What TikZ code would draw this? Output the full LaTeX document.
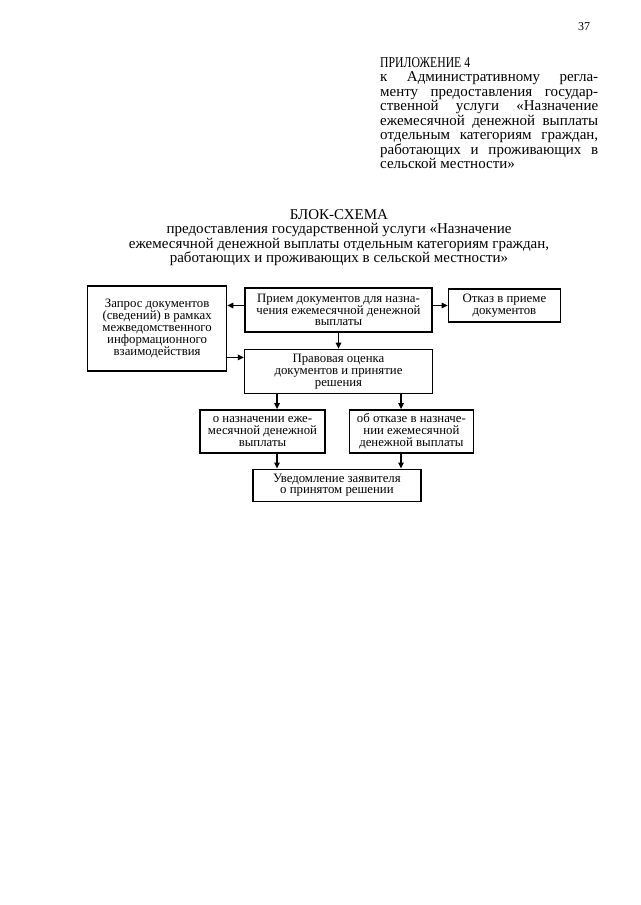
\documentclass[tikz,border=0pt]{standalone}
\usepackage{fontspec}
\setmainfont{Liberation Serif}
\usetikzlibrary{arrows.meta, positioning, calc}

\begin{document}
\begin{tikzpicture}[
    x=1pt, y=-1pt,
    >=Triangle,
    every node/.style={font=\fontsize{15}{14.5}\selectfont},
    block/.style={
        draw, line width=1.4pt, inner sep=0pt, align=center,
        font=\fontsize{12.8}{11.8}\selectfont
    },
    arrow/.style={-{Triangle[length=6pt, width=5.5pt]}, line width=1.3pt},
    title/.style={align=center, inner sep=0pt},
]
\useasboundingbox (0,0) rectangle (640,905);

% ===== Header =====
\node[inner sep=0pt, font=\fontsize{12}{12}\selectfont] (pagenum) at (584,27) {37};

\node[inner sep=0pt, anchor=north west, text width=218pt, align=justify] (appendix) at (380,57)
    {{\addfontfeature{FakeStretch=0.78}ПРИЛОЖЕНИЕ 4}\\
     к Административному регла-\linebreak
     менту предоставления государ-\linebreak
     ственной услуги «Назначение\linebreak
     ежемесячной денежной выплаты\linebreak
     отдельным категориям граждан,\linebreak
     работающих и проживающих в\linebreak
     сельской местности»};

\node[title, anchor=north] (heading) at (339,209)
    {БЛОК-СХЕМА\\
     предоставления государственной услуги «Назначение\\
     ежемесячной денежной выплаты отдельным категориям граждан,\\
     работающих и проживающих в сельской местности»};

% ===== Row 1 =====
\node[block, minimum width=187pt, minimum height=44pt] (priem) at (338.5,310)
    {Прием документов для назна-\\чения ежемесячной денежной\\выплаты};

\node[block, minimum width=112pt, minimum height=33pt, right=15pt of priem, yshift=4.5pt] (otkaz)
    {Отказ в приеме\\документов};

\node[block, minimum width=139pt, minimum height=85pt, left=17pt of priem, yshift=-18.5pt] (zapros)
    {Запрос документов\\(сведений) в рамках\\межведомственного\\информационного\\взаимодействия};

% ===== Row 2 =====
\node[block, minimum width=188pt, minimum height=44pt, below=16pt of priem] (pravov)
    {Правовая оценка\\документов и принятие\\решения};

% ===== Row 3: decisions =====
\node[block, minimum width=125pt, minimum height=43pt, below=15pt of pravov, xshift=-76pt] (naznach)
    {о назначении еже-\\месячной денежной\\выплаты};
\node[block, minimum width=124pt, minimum height=43pt, right=23pt of naznach] (otkazN)
    {об отказе в назначе-\\нии ежемесячной\\денежной выплаты};

% ===== Row 4 =====
\node[block, minimum width=168pt, minimum height=32pt,
      below=15pt of $(naznach.south)!0.5!(otkazN.south)$] (uvedoml)
    {Уведомление заявителя\\о принятом решении};

% ===== ARROWS =====
\coordinate (lx) at (277,0);
\coordinate (rx) at (401,0);

\draw[arrow] (priem.west |- otkaz.west) -- (zapros.east |- otkaz.west);
\draw[arrow] (priem.east |- otkaz.west) -- (otkaz.west);
\draw[arrow] ([yshift=14pt]zapros.east |- pravov.west) -- ([yshift=14pt]pravov.west);
\draw[arrow] (priem.south) -- (priem.south |- pravov.north);

\draw[arrow] (pravov.south -| lx) -- (naznach.north -| lx);
\draw[arrow] (pravov.south -| rx) -- (otkazN.north -| rx);
\draw[arrow] (naznach.south -| lx) -- (uvedoml.north -| lx);
\draw[arrow] (otkazN.south -| rx) -- (uvedoml.north -| rx);

\end{tikzpicture}
\end{document}
